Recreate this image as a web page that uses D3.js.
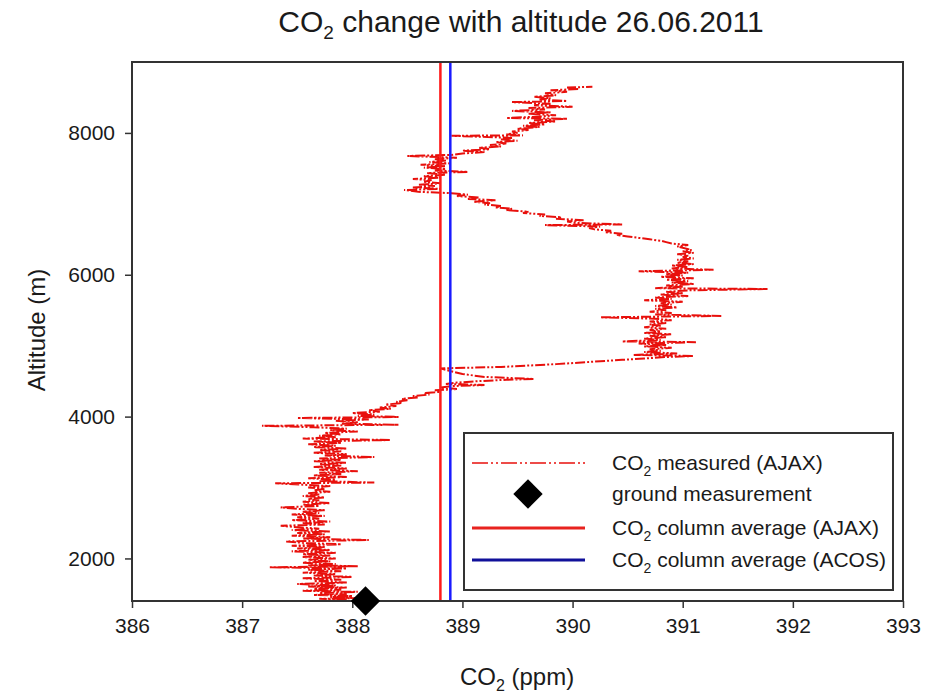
<!DOCTYPE html>
<html>
<head>
<meta charset="utf-8">
<script src="https://cdn.jsdelivr.net/npm/d3@7"></script>
<style>
  body { margin: 0; background: #fff; }
  text { font-family: "Liberation Sans", Arial, sans-serif; fill: #1a1a1a; }
</style>
</head>
<body>
<svg id="chart" width="937" height="695"></svg>
<script>
// measured CO2 profile, [ppm, altitude m] bottom to top
const co2Profile = [
  [387.95,1420],[387.70,1430],[388.05,1440],[387.80,1455],[388.00,1470],[387.65,1485],[387.95,1500],
  [387.70,1515],[388.05,1530],[387.55,1545],[387.90,1560],[387.65,1575],[387.95,1590],[387.60,1605],
  [387.85,1620],[387.50,1640],[387.95,1660],[387.65,1680],[387.90,1700],[387.55,1720],[388.00,1740],
  [387.65,1760],[387.85,1780],[387.55,1800],[387.90,1820],[387.60,1840],[387.95,1860],[387.25,1875],
  [388.05,1890],[387.60,1905],[387.85,1920],[387.55,1940],[387.80,1960],[387.60,1980],[387.85,2000],
  [387.55,2020],[387.80,2040],[387.55,2060],[387.85,2080],[387.45,2100],[387.80,2120],[387.50,2140],
  [387.75,2160],[387.45,2180],[387.90,2200],[387.55,2220],[387.40,2240],[388.15,2260],[387.55,2280],
  [387.80,2300],[387.45,2320],[387.75,2340],[387.50,2360],[387.80,2380],[387.45,2400],[387.70,2420],
  [387.50,2440],[387.35,2460],[387.75,2480],[387.55,2500],[387.80,2520],[387.45,2540],[387.70,2560],
  [387.50,2580],[387.75,2600],[387.45,2620],[387.70,2640],[387.55,2660],[387.75,2680],[387.50,2700],
  [387.35,2720],[387.70,2740],[387.55,2760],[387.80,2780],[387.55,2800],[387.70,2820],[387.60,2840],
  [387.75,2860],[387.55,2880],[387.70,2900],[387.60,2920],[387.80,2940],[387.65,2960],[387.75,2980],
  [387.60,3000],[387.80,3020],[387.55,3040],[387.30,3060],[388.20,3070],[387.70,3090],[387.85,3110],
  [387.60,3130],[387.95,3150],[387.65,3170],[387.90,3190],[387.70,3210],[388.05,3230],[387.70,3250],
  [387.95,3270],[387.65,3290],[387.90,3310],[387.70,3330],[387.95,3350],[387.65,3370],[387.90,3390],
  [387.70,3410],[388.20,3430],[387.75,3450],[387.95,3470],[387.65,3490],[387.90,3510],[387.70,3530],
  [387.95,3550],[387.65,3570],[387.85,3590],[387.60,3610],[387.90,3630],[387.65,3650],[388.35,3670],
  [387.55,3690],[387.85,3710],[387.70,3730],[387.90,3750],[387.75,3770],[388.05,3790],[387.80,3810],
  [387.95,3830],[387.65,3850],[387.18,3870],[388.42,3885],[387.90,3900],[388.05,3920],[387.85,3940],
  [388.15,3960],[387.50,3980],[388.42,3995],[388.05,4010],[388.20,4030],[388.00,4050],[388.25,4070],
  [388.15,4090],[388.35,4110],[388.25,4130],[388.40,4150],[388.30,4170],[388.45,4190],[388.40,4210],
  [388.50,4230],[388.45,4250],[388.60,4270],[388.55,4290],[388.70,4310],[388.65,4330],[388.80,4350],
  [388.75,4370],[388.95,4390],[388.80,4410],[388.90,4430],[389.20,4445],[388.85,4460],[388.95,4480],
  [389.15,4500],[389.40,4520],[389.65,4530],[389.20,4560],[389.00,4600],[388.90,4640],[388.80,4680],
  [389.10,4690],[389.35,4700],[389.60,4720],[389.85,4740],[390.05,4760],[390.25,4780],[390.45,4800],
  [390.65,4820],[390.85,4840],[391.10,4855],[390.55,4870],[390.95,4890],[390.65,4910],[390.80,4930],
  [390.70,4950],[390.90,4970],[390.65,4990],[390.85,5010],[390.60,5030],[391.12,5050],[390.45,5060],
  [390.80,5080],[390.65,5100],[390.85,5120],[390.70,5140],[390.90,5160],[390.65,5180],[390.80,5200],
  [390.70,5220],[390.85,5240],[390.65,5260],[390.80,5280],[390.70,5300],[390.85,5320],[390.70,5340],
  [390.90,5360],[390.75,5380],[390.25,5400],[391.35,5420],[390.75,5440],[390.90,5460],[390.70,5480],
  [390.85,5500],[390.75,5520],[390.95,5540],[390.75,5560],[390.90,5580],[390.80,5600],[391.00,5620],
  [390.65,5640],[390.90,5660],[390.75,5680],[391.05,5700],[390.80,5720],[391.00,5740],[390.85,5760],
  [391.05,5780],[391.77,5800],[390.75,5810],[391.00,5830],[390.85,5850],[391.10,5870],[390.90,5890],
  [391.05,5910],[390.85,5930],[391.10,5950],[390.80,5970],[391.00,5990],[390.85,6010],[391.05,6030],
  [390.60,6050],[391.28,6070],[390.90,6090],[391.05,6110],[390.90,6130],[391.10,6150],[390.95,6170],
  [391.05,6190],[390.95,6210],[391.10,6230],[391.00,6250],[391.05,6270],[390.95,6290],[391.10,6310],
  [391.00,6330],[391.08,6350],[391.00,6380],[390.95,6400],[391.05,6420],[390.90,6440],[390.85,6460],
  [390.80,6480],[390.70,6500],[390.60,6520],[390.50,6540],[390.40,6560],[390.45,6580],[390.30,6600],
  [390.35,6620],[390.20,6640],[390.15,6660],[390.25,6680],[389.75,6700],[390.45,6710],[390.05,6730],
  [389.95,6750],[390.10,6770],[389.85,6790],[389.90,6810],[389.70,6830],[389.75,6850],[389.55,6870],
  [389.60,6890],[389.40,6910],[389.45,6930],[389.30,6950],[389.35,6970],[389.20,6990],[389.25,7010],
  [389.10,7030],[389.30,7050],[389.05,7070],[389.15,7090],[388.95,7110],[389.05,7130],[388.90,7150],
  [388.60,7170],[388.47,7195],[388.80,7210],[388.55,7230],[388.75,7250],[388.60,7270],[388.80,7290],
  [388.65,7310],[388.72,7335],[388.55,7350],[388.80,7370],[388.65,7390],[388.85,7410],[388.68,7435],
  [389.05,7450],[388.75,7470],[388.85,7490],[388.65,7510],[388.85,7530],[388.62,7550],[388.88,7570],
  [388.70,7590],[388.85,7610],[388.75,7630],[388.95,7650],[388.50,7675],[388.90,7690],[389.00,7710],
  [389.20,7730],[389.00,7750],[389.25,7770],[389.15,7790],[389.35,7810],[389.25,7830],[389.40,7850],
  [389.30,7870],[389.50,7890],[389.35,7910],[389.45,7930],[388.90,7960],[389.55,7965],[389.40,7980],
  [389.50,8000],[389.45,8020],[389.60,8040],[389.50,8060],[389.70,8085],[389.55,8100],[389.75,8120],
  [389.60,8140],[389.85,8160],[389.65,8180],[389.95,8200],[389.40,8210],[389.70,8230],[389.85,8250],
  [389.60,8270],[389.80,8290],[389.45,8310],[389.75,8330],[389.60,8350],[390.00,8370],[389.65,8390],
  [389.80,8410],[389.45,8435],[389.95,8450],[389.70,8470],[389.80,8490],[389.65,8510],[389.85,8530],
  [389.75,8560],[389.95,8580],[389.80,8600],[390.05,8620],[389.95,8640],[390.18,8650]
];

const groundPoint = [388.12, 1400];            // ground measurement
const avgNames = ["AJAX", "ACOS"];
const avgValues = [388.80, 388.89];            // column averages
const avgColors = ["#ff1a1a", "#1a1aff"];

const xTicks = [386, 387, 388, 389, 390, 391, 392, 393];
const yTicks = [2000, 4000, 6000, 8000];

const W = 937, H = 695;
const margin = { top: 62, right: 34, bottom: 94, left: 132 };
const innerW = W - margin.left - margin.right;
const innerH = H - margin.top - margin.bottom;

const svg = d3.select("#chart");
svg.append("rect").attr("width", W).attr("height", H).attr("fill", "#fff");

const x = d3.scaleLinear().domain([386, 393]).range([0, innerW]);
const y = d3.scaleLinear().domain([1400, 9000]).range([innerH, 0]);

const g = svg.append("g").attr("transform", `translate(${margin.left},${margin.top})`);

g.append("clipPath").attr("id", "plotClip")
  .append("rect").attr("width", innerW).attr("height", innerH);

// measured profile
const line = d3.line().x(d => x(d[0])).y(d => y(d[1]));
g.append("path")
  .datum(co2Profile)
  .attr("clip-path", "url(#plotClip)")
  .attr("d", line)
  .attr("fill", "none")
  .attr("stroke", "#e8100c")
  .attr("stroke-width", 2)
  .attr("stroke-dasharray", "10,2,2,2,2,2");

// column averages
g.selectAll("line.avg")
  .data(avgValues)
  .join("line")
  .attr("class", "avg")
  .attr("x1", d => x(d)).attr("x2", d => x(d))
  .attr("y1", 0).attr("y2", innerH)
  .attr("stroke", (d, i) => avgColors[i])
  .attr("stroke-width", 2.5);

// axes
const xAxis = d3.axisBottom(x).tickValues(xTicks).tickFormat(d3.format("d"))
  .tickSize(7).tickSizeOuter(0).tickPadding(10);
const yAxis = d3.axisLeft(y).tickValues(yTicks).tickFormat(d3.format("d"))
  .tickSize(7).tickSizeOuter(0).tickPadding(10);

const gx = g.append("g").attr("transform", `translate(0,${innerH})`).call(xAxis);
const gy = g.append("g").call(yAxis);
[gx, gy].forEach(a => {
  a.select(".domain").remove();
  a.selectAll(".tick line").attr("stroke", "#333").attr("stroke-width", 1.5);
  a.selectAll(".tick text")
    .style("font-family", '"Liberation Sans", Arial, sans-serif')
    .style("font-size", "21px").attr("fill", "#1a1a1a");
});

// frame
g.append("rect")
  .attr("width", innerW).attr("height", innerH)
  .attr("fill", "none").attr("stroke", "#333").attr("stroke-width", 2);

// ground measurement diamond
g.append("path")
  .attr("d", d3.symbol(d3.symbolSquare, 430)())
  .attr("transform", `translate(${x(groundPoint[0])},${y(groundPoint[1])}) rotate(45)`)
  .attr("fill", "#000");

// title
const title = svg.append("text")
  .attr("x", 521).attr("y", 32)
  .attr("text-anchor", "middle")
  .style("font-size", "30px");
title.append("tspan").text("CO");
title.append("tspan").attr("dy", 7).style("font-size", "19px").text("2");
title.append("tspan").attr("dy", -7).text(" change with altitude 26.06.2011");

// axis labels
const xl = svg.append("text")
  .attr("x", 517).attr("y", 685)
  .attr("text-anchor", "middle")
  .style("font-size", "24px");
xl.append("tspan").text("CO");
xl.append("tspan").attr("dy", 6).style("font-size", "16px").text("2");
xl.append("tspan").attr("dy", -6).text(" (ppm)");

svg.append("text")
  .attr("transform", "translate(45,330) rotate(-90)")
  .attr("text-anchor", "middle")
  .style("font-size", "24px")
  .text("Altitude (m)");

// legend
const lg = svg.append("g").attr("transform", "translate(464,433)");
lg.append("rect")
  .attr("width", 429).attr("height", 157)
  .attr("fill", "#fff").attr("stroke", "#333").attr("stroke-width", 2);

const legendLabels = [
  ["CO", "2", " measured (AJAX)"],
  ["ground measurement"],
  ["CO", "2", " column average (AJAX)"],
  ["CO", "2", " column average (ACOS)"]
];
const rowY = [30, 61, 95, 127];

legendLabels.forEach((parts, i) => {
  const t = lg.append("text").attr("x", 148).attr("y", rowY[i] + 7).style("font-size", "21px");
  if (parts.length === 1) {
    t.text(parts[0]);
  } else {
    t.append("tspan").text(parts[0]);
    t.append("tspan").attr("dy", 6).style("font-size", "14px").text(parts[1]);
    t.append("tspan").attr("dy", -6).text(parts[2]);
  }
});

lg.append("line")
  .attr("x1", 8).attr("x2", 121).attr("y1", rowY[0]).attr("y2", rowY[0])
  .attr("stroke", "#e8100c").attr("stroke-width", 1.5)
  .attr("stroke-dasharray", "16,3,2,3,2,3");

lg.append("path")
  .attr("d", d3.symbol(d3.symbolSquare, 430)())
  .attr("transform", `translate(64,${rowY[1]}) rotate(45)`)
  .attr("fill", "#000");

lg.append("line")
  .attr("x1", 8).attr("x2", 121).attr("y1", rowY[2]).attr("y2", rowY[2])
  .attr("stroke", "#e8231f").attr("stroke-width", 3);
lg.append("line")
  .attr("x1", 8).attr("x2", 121).attr("y1", rowY[3]).attr("y2", rowY[3])
  .attr("stroke", "#10109a").attr("stroke-width", 3);
</script>
</body>
</html>
